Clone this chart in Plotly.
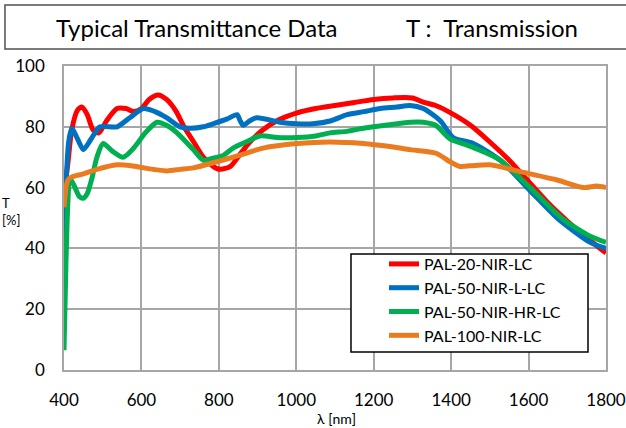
import plotly.graph_objects as go

# ---- data ----
red_x = [400, 410, 420, 435, 446, 460, 475, 490, 510, 537, 560, 580, 600, 620, 643, 665, 690, 710, 735, 760, 785, 803, 830, 855, 880, 914, 950, 1000, 1050, 1100, 1150, 1200, 1250, 1300, 1330, 1360, 1400, 1450, 1500, 1550, 1600, 1650, 1700, 1750, 1800]
red_y = [58, 68, 79, 85.5, 86.5, 84, 79, 78, 82, 86, 86, 85, 86, 89, 90.5, 89, 85, 80, 75, 70, 67, 66, 67, 71, 75, 79, 82, 84.5, 86, 87, 88, 89, 89.5, 89.5, 88, 87, 84.5, 80.5, 75, 69, 62, 55, 49, 43.5, 38.5]

blue_x = [400, 405, 412, 420, 435, 450, 470, 493, 537, 570, 605, 635, 665, 700, 726, 760, 785, 820, 847, 855, 863, 880, 898, 958, 1000, 1043, 1090, 1131, 1175, 1217, 1260, 1294, 1328, 1372, 1405, 1457, 1527, 1604, 1674, 1759, 1800]
blue_y = [35, 60, 75, 79.5, 76, 72.5, 76, 80, 80, 83, 86, 85, 83, 80, 79.5, 80, 81, 82.5, 84, 82, 80.5, 82, 83, 81.5, 81, 81, 82, 84, 85, 86, 86.5, 87, 86, 82, 76.5, 74.5, 69, 59, 50, 42, 40]

green_x = [400, 405, 410, 415, 425, 440, 450, 460, 472, 485, 501, 525, 553, 580, 610, 640, 665, 692, 734, 760, 785, 810, 837, 870, 906, 950, 1002, 1050, 1087, 1130, 1173, 1230, 1294, 1328, 1360, 1397, 1441, 1480, 1527, 1604, 1690, 1759, 1800]
green_y = [6.5, 35, 55, 63, 61, 57, 56.5, 58, 63, 70, 74.5, 72, 70, 73, 78, 81.5, 80.5, 78, 72.5, 69, 69.7, 70.5, 73, 75, 77, 76.5, 76.5, 77, 78, 78.5, 79.5, 80.5, 81.5, 81.5, 80.5, 76, 74, 72, 69, 60, 49.5, 44, 42]

orange_x = [400, 405, 410, 420, 450, 485, 537, 570, 605, 665, 700, 734, 795, 850, 914, 1002, 1087, 1173, 1242, 1294, 1361, 1397, 1421, 1460, 1501, 1587, 1674, 1742, 1776, 1800]
orange_y = [53.5, 60, 62.5, 63.5, 64.5, 66, 67.5, 67.3, 66.5, 65.5, 66, 66.5, 68.5, 70.5, 73, 74.5, 75, 74.5, 73.5, 72.5, 71.3, 68.5, 67, 67.3, 67.5, 65, 62.5, 60, 60.5, 60]

series_names = ["PAL-20-NIR-LC", "PAL-50-NIR-L-LC", "PAL-50-NIR-HR-LC", "PAL-100-NIR-LC"]
series_colors = ["#FF0000", "#0070C0", "#00B050", "#EA7B1F"]

x_ticks = [400, 600, 800, 1000, 1200, 1400, 1600, 1800]
y_ticks = [0, 20, 40, 60, 80, 100]

FONT = "Lato"

fig = go.Figure()
for xs, ys, name, col in zip([red_x, blue_x, green_x, orange_x],
                             [red_y, blue_y, green_y, orange_y],
                             series_names, series_colors):
    fig.add_trace(go.Scatter(x=xs, y=ys, name=name, mode="lines",
                             line=dict(color=col, width=5, shape="spline", smoothing=0.7)))

grid = "#A6A6A6"
fig.update_layout(
    width=626, height=428,
    margin=dict(l=64, r=20, t=66, b=58, autoexpand=False),
    paper_bgcolor="white", plot_bgcolor="white",
    font=dict(family=FONT, color="black"),
    showlegend=True,
    legend=dict(x=0.5904, y=0.4046, xanchor="left", yanchor="top",
                borderwidth=0, bgcolor="rgba(0,0,0,0)",
                font=dict(size=16, family=FONT), tracegroupgap=0),
    xaxis=dict(range=[400, 1800], tickvals=x_ticks, showgrid=True, gridcolor=grid, gridwidth=1.5,
               showline=True, linecolor=grid, linewidth=1.5, mirror=True, zeroline=False,
               automargin=False,
               ticks="", tickfont=dict(size=17, family=FONT), ticklabelstandoff=14),
    yaxis=dict(range=[0, 100], tickvals=y_ticks, showgrid=True, gridcolor=grid, gridwidth=1.5,
               showline=True, linecolor=grid, linewidth=1.5, mirror=True, zeroline=False,
               automargin=False,
               ticks="", tickfont=dict(size=17, family=FONT), ticklabelstandoff=14),
    shapes=[
        dict(type="rect", xref="paper", yref="paper", x0=-0.1089, x1=1.12,
             y0=1.0559, y1=1.2007, line=dict(color="#505050", width=1.5), fillcolor="white"),
        dict(type="rect", xref="paper", yref="paper", x0=0.5295, x1=0.9668,
             y0=0.0592, y1=0.3816, line=dict(color="black", width=1.5), fillcolor="white",
             layer="above"),
    ],
    annotations=[
        dict(text="Typical Transmittance Data", xref="paper", yref="paper", x=0.2445, y=1.128,
             xanchor="center", yanchor="middle",
             showarrow=False, font=dict(size=24, family=FONT)),
        dict(text="T :  Transmission", xref="paper", yref="paper", x=0.7888, y=1.128,
             xanchor="center", yanchor="middle",
             showarrow=False, font=dict(size=24, family=FONT)),
        dict(text="λ [nm]", xref="paper", yref="paper", x=0.502, y=-0.158,
             xanchor="center", yanchor="middle",
             showarrow=False, font=dict(size=14, family=FONT)),
        dict(text="T<br>[%]", xref="paper", yref="paper", x=-0.1181, y=0.5214, xanchor="left",
             yanchor="middle",
             showarrow=False, align="left", font=dict(size=13, family=FONT)),
    ],
)

fig.write_html("out.html", config={"displayModeBar": False},
               post_script="document.body.style.margin='0px';")
